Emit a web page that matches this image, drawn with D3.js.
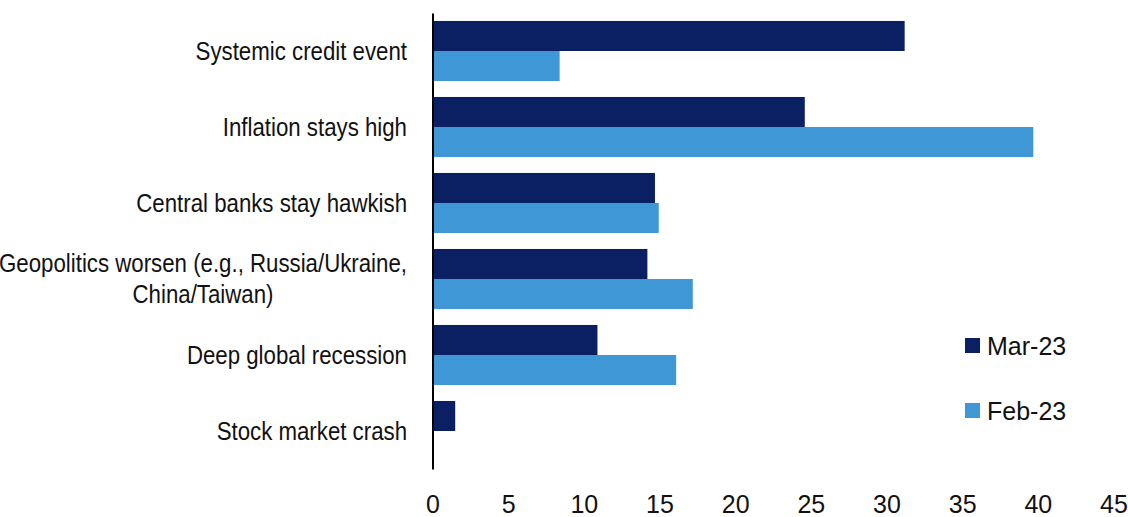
<!DOCTYPE html>
<html>
<head>
<meta charset="utf-8">
<script src="https://cdn.jsdelivr.net/npm/d3@7"></script>
<style>
  html, body { margin: 0; padding: 0; background: #ffffff; }
  svg { display: block; }
  .cat { font-family: "Liberation Sans", Arial, sans-serif; font-size: 25px; fill: #111; }
  .tick text, .legend text { font-family: "Liberation Sans", Arial, sans-serif; font-size: 25px; fill: #111; }
</style>
</head>
<body>
<svg id="chart" width="1128" height="517"></svg>
<script>
// Survey categories (top to bottom); "\n" breaks a label onto two lines
const categories = [
  "Systemic credit event",
  "Inflation stays high",
  "Central banks stay hawkish",
  "Geopolitics worsen (e.g., Russia/Ukraine,\nChina/Taiwan)",
  "Deep global recession",
  "Stock market crash"
];
const seriesNames = ["Mar-23", "Feb-23"];
const mar23 = [31.2, 24.6, 14.7, 14.2, 10.9, 1.5];
const feb23 = [8.4, 39.7, 14.95, 17.2, 16.1, 0];
const xTicks = [0, 5, 10, 15, 20, 25, 30, 35, 40, 45];
const colors = ["#0b2062", "#4097d6"];

const values = [mar23, feb23];
const rows = categories.map((c, i) => ({ cat: c, vals: seriesNames.map((s, j) => ({ series: s, value: values[j][i] })) }));

const svg = d3.select("#chart");

const x = d3.scaleLinear().domain([0, 45]).range([432.5, 1113.5]);
const y = d3.scaleBand().domain(categories).range([13, 469]).paddingInner(0.21).paddingOuter(0.105);
const ySub = d3.scaleBand().domain(seriesNames).range([0, y.bandwidth()]);
const color = d3.scaleOrdinal().domain(seriesNames).range(colors);

// Bars
const groups = svg.append("g").selectAll("g").data(rows).join("g")
  .attr("transform", d => `translate(0,${y(d.cat)})`);
groups.selectAll("rect").data(d => d.vals).join("rect")
  .attr("x", x(0))
  .attr("y", d => ySub(d.series))
  .attr("width", d => Math.max(0, x(d.value) - x(0)))
  .attr("height", ySub.bandwidth())
  .attr("fill", d => color(d.series));

// Vertical category axis line
const yAxis = svg.append("g")
  .attr("transform", `translate(${x(0)},0)`)
  .call(d3.axisLeft(y).tickSize(0).tickSizeOuter(0).tickFormat(""));
yAxis.select(".domain").attr("stroke", "#000").attr("stroke-width", 2);
yAxis.selectAll(".tick").remove();

// Category labels, set in a condensed face (horizontally squeezed)
const labelRight = 407;
const squeeze = 0.89;
const labels = svg.append("g").attr("transform", `translate(${labelRight},0) scale(${squeeze},1)`);
categories.forEach(c => {
  const lines = c.split("\n");
  const cy = y(c) + y.bandwidth() / 2;
  const lh = 31;
  const t = labels.append("text").attr("class", "cat");
  lines.forEach((ln, k) => {
    t.append("tspan").text(ln)
      .attr("y", cy + (k - (lines.length - 1) / 2) * lh)
      .attr("dy", "0.36em");
  });
  if (lines.length === 1) {
    t.attr("text-anchor", "end").selectAll("tspan").attr("x", 0);
  } else {
    // center the lines within a block aligned to the right edge
    let w = 0;
    t.selectAll("tspan").each(function () { w = Math.max(w, this.getComputedTextLength()); });
    t.attr("text-anchor", "middle").selectAll("tspan").attr("x", -w / 2);
  }
});

// Value axis labels
const xAxis = svg.append("g")
  .attr("transform", "translate(0,495)")
  .call(d3.axisBottom(x).tickValues(xTicks).tickSize(0).tickPadding(0).tickFormat(d3.format("d")));
xAxis.select(".domain").remove();

// Legend
const legend = svg.append("g").attr("class", "legend");
seriesNames.forEach((s, i) => {
  const ly = 346 + i * 65;
  legend.append("rect").attr("x", 965).attr("y", ly - 8).attr("width", 15).attr("height", 15).attr("fill", color(s));
  legend.append("text").attr("x", 987).attr("y", ly).attr("dy", "0.36em").text(s);
});
</script>
</body>
</html>
